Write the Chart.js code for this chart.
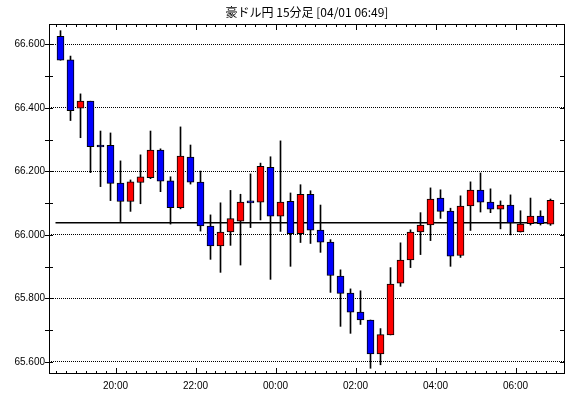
<!DOCTYPE html>
<html>
<head>
<meta charset="utf-8">
<script src="https://cdn.jsdelivr.net/npm/chart.js@4.4.1/dist/chart.umd.min.js"></script>
<style>
  html, body { margin: 0; padding: 0; background: #fff; }
  #wrap { width: 570px; height: 398px; }
</style>
</head>
<body>
<div id="wrap"><canvas id="chart" width="570" height="398"></canvas></div>
<script>
const chartTitle = '豪ドル円 15分足 [04/01 06:49]';

// 15-minute candles, 18:30 -> 06:45
const opens = [
  66.625, 66.551, 66.399, 66.421, 66.283, 66.282, 66.163, 66.105, 66.165, 66.180,
  66.267, 66.170, 66.086, 66.245, 66.166, 66.028, 65.965, 66.009, 66.043, 66.107,
  66.103, 66.213, 66.059, 66.106, 66.004, 66.128, 66.015, 65.977, 65.870, 65.817,
  65.757, 65.732, 65.625, 65.685, 65.848, 65.921, 66.009, 66.031, 66.116, 66.075,
  65.935, 66.091, 66.141, 66.103, 66.081, 66.094, 66.009, 66.035, 66.059, 66.034
];
const highs = [
  66.643, 66.563, 66.444, 66.421, 66.327, 66.321, 66.233, 66.173, 66.252, 66.327,
  66.271, 66.183, 66.340, 66.283, 66.201, 66.063, 66.101, 66.140, 66.128, 66.192,
  66.226, 66.246, 66.296, 66.132, 66.158, 66.139, 66.094, 65.985, 65.890, 65.830,
  65.824, 65.732, 65.705, 65.897, 65.975, 66.016, 66.070, 66.148, 66.142, 66.084,
  66.123, 66.167, 66.195, 66.145, 66.107, 66.126, 66.076, 66.116, 66.076, 66.113
];
const lows = [
  66.550, 66.360, 66.306, 66.196, 66.152, 66.108, 66.042, 66.074, 66.098, 66.177,
  66.136, 66.034, 66.082, 66.160, 66.012, 65.923, 65.882, 65.967, 65.905, 66.023,
  66.047, 65.860, 66.011, 65.901, 65.976, 65.973, 65.945, 65.819, 65.712, 65.690,
  65.718, 65.580, 65.591, 65.685, 65.838, 65.897, 65.938, 65.982, 66.052, 65.901,
  65.929, 66.014, 66.072, 66.070, 66.019, 66.000, 66.009, 66.031, 66.031, 66.030
];
const closes = [
  66.550, 66.391, 66.421, 66.278, 66.277, 66.162, 66.105, 66.167, 66.183, 66.267,
  66.169, 66.086, 66.248, 66.166, 66.028, 65.965, 66.009, 66.051, 66.103, 66.101,
  66.216, 66.059, 66.103, 66.004, 66.128, 66.015, 65.977, 65.872, 65.816, 65.757,
  65.732, 65.625, 65.686, 65.845, 65.921, 66.009, 66.031, 66.113, 66.074, 65.933,
  66.091, 66.141, 66.103, 66.081, 66.094, 66.038, 66.034, 66.059, 66.035, 66.109
];
const currentPrice = 66.038;

const timeLabels = ['20:00', '22:00', '00:00', '02:00', '04:00', '06:00'];
const timeTickPos = [5.5, 13.5, 21.5, 29.5, 37.5, 45.5];
const yTicks = [65.6, 65.8, 66.0, 66.2, 66.4, 66.6];

const xMin = -1.15, xMax = 50.45;
const yMin = 65.562, yMax = 66.664;

const idx = opens.map((_, i) => i);
const bodies = idx.map(i => ({ x: i, y: [opens[i], closes[i]] }));
const wicks = idx.map(i => ({ x: i, y: [lows[i], highs[i]] }));
const bodyColors = idx.map(i => closes[i] >= opens[i] ? '#ff0000' : '#0000ff');

// frame, small tick marks and title
const framePlugin = {
  id: 'frameTicks',
  afterDraw(chart) {
    const ctx = chart.ctx;
    const a = chart.chartArea;
    const x = chart.scales.x;
    const y = chart.scales.y;
    ctx.save();
    ctx.setLineDash([]);
    ctx.fillStyle = '#000';
    const L = Math.round(a.left), R = Math.round(a.right);
    const T = Math.round(a.top), B = Math.round(a.bottom);
    ctx.fillRect(L, T, R - L, 1);
    ctx.fillRect(L, B - 1, R - L, 1);
    ctx.fillRect(L, T, 1, B - T);
    ctx.fillRect(R - 1, T, 1, B - T);

    for (let i = -1; i < opens.length; i++) {
      const v = i + 0.5;
      const px = Math.round(x.getPixelForValue(v));
      const len = timeTickPos.includes(v) ? 6 : 3;
      ctx.fillRect(px, B - len, 1, len);
      ctx.fillRect(px, T, 1, len);
    }
    for (let k = 0; k <= 10; k++) {
      const py = Math.round(y.getPixelForValue(65.6 + k * 0.1));
      ctx.fillRect(L - 4, py, 8, 1);
      ctx.fillRect(R - 5, py, 5, 1);
    }

    ctx.font = '12px "Noto Sans CJK JP"';
    ctx.textAlign = 'center';
    ctx.textBaseline = 'middle';
    ctx.fillText(chartTitle, (a.left + a.right) / 2, 12);
    ctx.restore();
  }
};

new Chart(document.getElementById('chart'), {
  data: {
    datasets: [
      {
        type: 'line',
        data: [{ x: -0.5, y: currentPrice }, { x: opens.length - 1, y: currentPrice }],
        borderColor: '#000',
        borderWidth: 1.5,
        pointRadius: 0,
        order: 2
      },
      {
        type: 'bar',
        data: bodies,
        backgroundColor: bodyColors,
        borderColor: '#000',
        borderWidth: 1,
        borderSkipped: false,
        barThickness: 7,
        grouped: false,
        order: 1
      },
      {
        type: 'bar',
        data: wicks,
        backgroundColor: '#000',
        borderWidth: 0,
        barThickness: 1,
        grouped: false,
        order: 3
      }
    ]
  },
  plugins: [framePlugin],
  options: {
    responsive: false,
    animation: false,
    layout: { padding: { top: 24, right: 5, left: 0, bottom: 0 } },
    plugins: {
      legend: { display: false },
      tooltip: { enabled: false },
      title: { display: false }
    },
    scales: {
      x: {
        type: 'linear',
        offset: false,
        min: xMin,
        max: xMax,
        afterFit: s => { s.height = 24; },
        afterBuildTicks: s => { s.ticks = timeTickPos.map(v => ({ value: v })); },
        grid: { display: true, offset: false, drawOnChartArea: false, drawTicks: false },
        border: { display: false },
        ticks: {
          autoSkip: false,
          maxRotation: 0,
          padding: 6,
          color: '#000',
          font: { family: '"Liberation Sans", Arial, sans-serif', size: 10 },
          callback: v => timeLabels[timeTickPos.indexOf(v)]
        }
      },
      y: {
        type: 'linear',
        min: yMin,
        max: yMax,
        afterFit: s => { s.width = 49; },
        afterBuildTicks: s => { s.ticks = yTicks.map(v => ({ value: v })); },
        grid: {
          color: '#000',
          lineWidth: 1,
          drawTicks: false
        },
        border: { display: false, dash: [1, 1] },
        ticks: {
          padding: 4,
          color: '#000',
          font: { family: '"Liberation Sans", Arial, sans-serif', size: 10 },
          callback: v => v.toFixed(3)
        }
      }
    }
  }
});
</script>
</body>
</html>
